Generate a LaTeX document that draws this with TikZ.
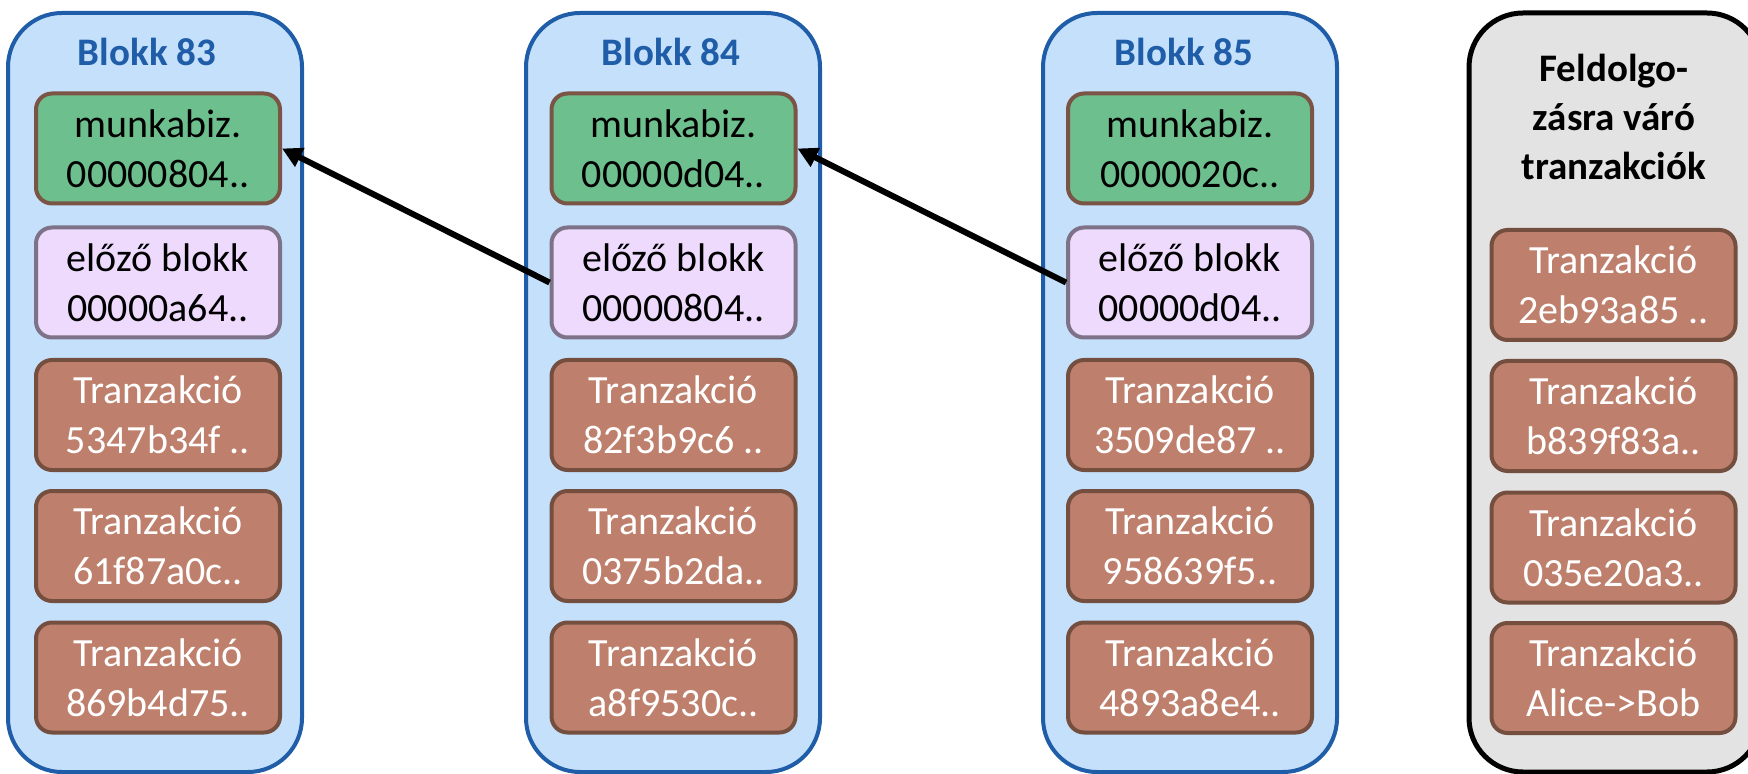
\documentclass[tikz,border=0pt]{standalone}
\usepackage{fontspec}
\setmainfont{Carlito}
\usetikzlibrary{arrows.meta}
\definecolor{blockfill}{HTML}{C5E0FB}
\definecolor{blockline}{HTML}{1F5DA8}
\definecolor{powfill}{HTML}{6EBF8E}
\definecolor{powline}{HTML}{7A5444}
\definecolor{prevfill}{HTML}{EDDAFC}
\definecolor{prevline}{HTML}{7D7287}
\definecolor{txfill}{HTML}{BE806C}
\definecolor{txline}{HTML}{744F40}
\definecolor{poolfill}{HTML}{E3E3E3}
\tikzset{
  blockbox/.style={draw=blockline, fill=blockfill, line width=2pt,
    rounded corners=27pt, minimum width=147pt, minimum height=379.5pt, inner sep=0pt},
  poolbox/.style={draw=black, fill=poolfill, line width=2.5pt,
    rounded corners=27pt, minimum width=146pt, minimum height=379.5pt, inner sep=0pt},
  blocktitle/.style={font=\fontsize{19.5}{24.5}\selectfont\bfseries, text=blockline},
  pooltitle/.style={font=\fontsize{19.5}{24.5}\selectfont\bfseries, text=black, align=center},
  cell/.style={line width=2pt, rounded corners=8pt, minimum width=122pt,
    minimum height=55pt, inner sep=0pt, align=center,
    font=\fontsize{20}{25}\selectfont},
  powcell/.style={cell, draw=powline, fill=powfill, text=black},
  prevcell/.style={cell, draw=prevline, fill=prevfill, text=black},
  txcell/.style={cell, draw=txline, fill=txfill, text=white},
  link/.style={line width=3pt, -{Triangle[length=10pt, width=10pt]}},
}
\begin{document}
\begin{tikzpicture}[x=0.5pt, y=-0.5pt]
\useasboundingbox (0,0) rectangle (1748,774);
\clip (0,0) rectangle (1748,774);

% block containers
\node[blockbox] (blk83) at (155,392.5) {};
\node[blockbox] (blk84) at (673,392.5) {};
\node[blockbox] (blk85) at (1190,392.5) {};
\node[poolbox]  (pool)  at (1615,392.5) {};

% titles
\node[blocktitle] (t83) at (147,52) {Blokk 83};
\node[blocktitle] (t84) at (671,52) {Blokk 84};
\node[blocktitle] (t85) at (1184,52) {Blokk 85};
\node[pooltitle] (tpool) at (1614,117) {Feldolgo-\\zásra váró\\tranzakciók};

% block 83
\node[powcell]  (pow83)  at (158,148.5) {munkabiz.\\00000804..};
\node[prevcell] (prev83) at (158,282.5) {előző blokk\\00000a64..};
\node[txcell]   (tx83a)  at (158,415)   {Tranzakció\\5347b34f ..};
\node[txcell]   (tx83b)  at (158,546)   {Tranzakció\\61f87a0c..};
\node[txcell]   (tx83c)  at (158,677.5) {Tranzakció\\869b4d75..};

% block 84
\node[powcell]  (pow84)  at (673.5,148.5) {munkabiz.\\00000d04..};
\node[prevcell] (prev84) at (673.5,282.5) {előző blokk\\00000804..};
\node[txcell]   (tx84a)  at (673.5,415)   {Tranzakció\\82f3b9c6 ..};
\node[txcell]   (tx84b)  at (673.5,546)   {Tranzakció\\0375b2da..};
\node[txcell]   (tx84c)  at (673.5,677.5) {Tranzakció\\a8f9530c..};

% block 85
\node[powcell]  (pow85)  at (1190,148.5) {munkabiz.\\0000020c..};
\node[prevcell] (prev85) at (1190,282.5) {előző blokk\\00000d04..};
\node[txcell]   (tx85a)  at (1190,415)   {Tranzakció\\3509de87 ..};
\node[txcell]   (tx85b)  at (1190,546)   {Tranzakció\\958639f5..};
\node[txcell]   (tx85c)  at (1190,677.5) {Tranzakció\\4893a8e4..};

% pending transactions
\node[txcell] (pa) at (1613.5,285)   {Tranzakció\\2eb93a85 ..};
\node[txcell] (pb) at (1613.5,416)   {Tranzakció\\b839f83a..};
\node[txcell] (pc) at (1613.5,547.5) {Tranzakció\\035e20a3..};
\node[txcell] (pd) at (1613.5,678)   {Tranzakció\\Alice->Bob};

% hash links back to the previous block
\draw[link] (prev84.west) -- (pow83.east);
\draw[link] (prev85.west) -- (pow84.east);
\end{tikzpicture}
\end{document}
